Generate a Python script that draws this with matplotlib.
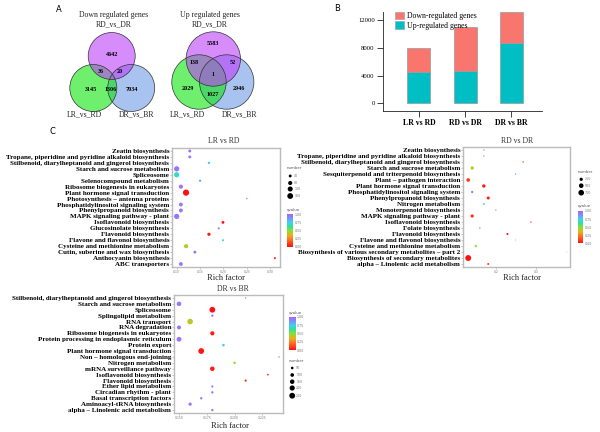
import matplotlib
matplotlib.use("Agg")
import matplotlib.pyplot as plt
from matplotlib.patches import Circle, Patch
from matplotlib.colors import LinearSegmentedColormap
import numpy as np

# ---------------- data ----------------
venn_down_counts = [4642, 36, 20, 3145, 1306, 7034]
venn_up_counts = [5583, 138, 52, 1, 2029, 1027, 2946]
venn_sets = ["RD_vs_DR", "LR_vs_RD", "DR_vs_BR"]

bar_categories = ["LR vs RD", "RD vs DR", "DR vs BR"]
up_genes = [4480, 4660, 8750]
down_genes = [3550, 6400, 4480]
bar_yticks = [0, 4000, 8000, 12000]

lr_paths = ["Zeatin biosynthesis",
            "Tropane, piperidine and pyridine alkaloid biosynthesis",
            "Stilbenoid, diarylheptanoid and gingerol biosynthesis",
            "Starch and sucrose metabolism", "Spliceosome",
            "Selenocompound metabolism", "Ribosome biogenesis in eukaryotes",
            "Plant hormone signal transduction",
            "Photosynthesis \u2013 antenna proteins",
            "Phosphatidylinositol signaling system",
            "Phenylpropanoid biosynthesis", "MAPK signaling pathway - plant",
            "Isoflavonoid biosynthesis", "Glucosinolate biosynthesis",
            "Flavonoid biosynthesis", "Flavone and flavonol biosynthesis",
            "Cysteine and methionine metabolism",
            "Cutin, suberine and wax biosynthesis", "Anthocyanin biosynthesis",
            "ABC transporters"]
lr_rich = [0.128, 0.128, 0.169, 0.100, 0.100, 0.150, 0.109, 0.120, 0.250, 0.109,
           0.109, 0.100, 0.199, 0.190, 0.169, 0.199, 0.120, 0.139, 0.310, 0.109]
lr_count = [40, 40, 25, 130, 130, 25, 80, 180, 10, 70,
            70, 130, 40, 20, 50, 20, 80, 40, 20, 70]
lr_q = [0.95, 0.95, 0.78, 0.95, 0.68, 0.82, 0.95, 0.0, 0.95, 0.95,
        0.95, 0.95, 0.02, 0.9, 0.02, 0.72, 0.45, 0.95, 0.03, 0.95]
lr_size_breaks = [40, 80, 120, 160]

rd_paths = ["Zeatin biosynthesis",
            "Tropane, piperidine and pyridine alkaloid biosynthesis",
            "Stilbenoid, diarylheptanoid and gingerol biosynthesis",
            "Starch and sucrose metabolism",
            "Sesquiterpenoid and triterpenoid biosynthesis",
            "Plant \u2013 pathogen interaction",
            "Plant hormone signal transduction",
            "Phosphatidylinositol signaling system",
            "Phenylpropanoid biosynthesis", "Nitrogen metabolism",
            "Monoterpenoid biosynthesis", "MAPK signaling pathway - plant",
            "Isoflavonoid biosynthesis", "Folate biosynthesis",
            "Flavonoid biosynthesis", "Flavone and flavonol biosynthesis",
            "Cysteine and methionine metabolism",
            "Biosynthesis of various secondary metabolites \u2013 part 2",
            "Biosynthesis of secondary metabolites",
            "alpha \u2013 Linolenic acid metabolism"]
rd_rich = [0.170, 0.170, 0.268, 0.141, 0.249, 0.131, 0.170, 0.141, 0.181, 0.170,
           0.200, 0.141, 0.2875, 0.160, 0.229, 0.249, 0.150, 0.377, 0.131, 0.181]
rd_count = [40, 40, 40, 250, 40, 320, 260, 120, 220, 80,
            40, 250, 40, 50, 100, 20, 130, 15, 820, 100]
rd_q = [0.95, 0.95, 0.02, 0.45, 0.9, 0.1, 0.01, 0.95, 0.03, 0.6,
        0.9, 0.08, 0.02, 0.92, 0.04, 0.2, 0.5, 0.95, 0.0, 0.12]
rd_size_breaks = [250, 500, 750]

dr_paths = ["Stilbenoid, diarylheptanoid and gingerol biosynthesis",
            "Starch and sucrose metabolism", "Spliceosome",
            "Splingolipid metabolism", "RNA transport", "RNA degradation",
            "Ribosome biogenesis in eukaryotes",
            "Protein processing in endoplasmic reticulum", "Protein export",
            "Plant hormone signal transduction",
            "Non \u2013 homologous end-joining", "Nitrogen metabolism",
            "mRNA surveillance pathway", "Isoflavonoid biosynthesis",
            "Flavonoid biosynthesis", "Ether lipid metabolism",
            "Circadian rhythm - plant", "Basal transcription factors",
            "Aminoacyl-tRNA biosynthesis",
            "alpha \u2013 Linolenic acid metabolism"]
dr_rich = [0.21, 0.15, 0.18, 0.18, 0.16, 0.15, 0.18, 0.15, 0.19, 0.17,
           0.24, 0.20, 0.18, 0.23, 0.21, 0.18, 0.18, 0.17, 0.16, 0.18]
dr_count = [15, 150, 250, 40, 230, 120, 130, 170, 50, 250,
            15, 45, 150, 25, 35, 35, 40, 40, 80, 40]
dr_q = [0.95, 0.95, 0.0, 0.95, 0.42, 0.95, 0.02, 0.95, 0.72, 0.01,
        0.95, 0.5, 0.02, 0.08, 0.06, 0.95, 0.95, 0.95, 0.95, 0.95]
dr_size_breaks = [50, 100, 150, 200, 250]

q_ticks = [0.0, 0.25, 0.5, 0.75, 1.0]

# ---------------- setup ----------------
W, H = 600, 432
fig = plt.figure(figsize=(6, 4.32), dpi=100)
SERIF = ["Liberation Serif", "DejaVu Serif"]

cmap = LinearSegmentedColormap.from_list(
    "q", [(0.0, "#FF1010"), (0.2, "#FF6A20"), (0.35, "#E8B020"),
          (0.5, "#88E030"), (0.62, "#30E0A0"), (0.75, "#40D0F0"),
          (0.88, "#7890FF"), (1.0, "#B060FF")])


def px_axes(l, t, r, b, **kw):
    return fig.add_axes([l / W, 1 - b / H, (r - l) / W, (b - t) / H], **kw)


ov = fig.add_axes([0, 0, 1, 1])
ov.set_xlim(0, W)
ov.set_ylim(H, 0)
ov.axis("off")


def ptext(x, y, s, **kw):
    kw.setdefault("ha", "center")
    kw.setdefault("va", "center")
    ov.text(x, y, s, **kw)


# ---------------- panel A: Venn ----------------
ptext(59, 10, "A", fontsize=6, family="DejaVu Sans")


def venn(centers, r, counts, label_pos, title_x, title):
    cols = ["#719BE6", "#0DE60D", "#BB3FF7"]  # blue, green, purple (drawn in this order)
    order = [2, 1, 0]
    for ci, col in zip(order, cols):
        cx, cy = centers[ci]
        ov.add_patch(Circle((cx, cy), r, facecolor=col, alpha=0.6,
                            edgecolor="none", zorder=1))
    for ci in range(3):
        cx, cy = centers[ci]
        ov.add_patch(Circle((cx, cy), r, facecolor="none",
                            edgecolor="#333333", lw=0.5, zorder=2))
    for (x, y), c in zip(label_pos, counts):
        ptext(x, y, str(c), fontsize=4.4, family=SERIF, fontweight="bold", zorder=3)
    ptext(title_x, 15, title, fontsize=5.6, family=SERIF, color="#222")
    ptext(title_x, 24.3, venn_sets[0], fontsize=5.6, family=SERIF, color="#222")


venn([(111.7, 56), (93.3, 88), (131.2, 88)], 23.5, venn_down_counts,
     [(112, 55), (101, 71.7), (120, 71.7), (90.7, 89.3), (111, 89.3), (132, 89.3)],
     114, "Down regulated genes")
venn([(213.3, 59), (199, 82), (226.7, 82)], 27.2, venn_up_counts,
     [(212.7, 43.3), (194, 62.3), (232.7, 62.3), (213, 74), (188.3, 88.3),
      (212.7, 95), (239.3, 88.3)],
     210, "Up regulated genes")
for x, s in [(84, venn_sets[1]), (137, venn_sets[2]), (187.5, venn_sets[1]), (240, venn_sets[2])]:
    ptext(x, 114.5, s, fontsize=5.6, family=SERIF, color="#222")

# ---------------- panel B: bars ----------------
ptext(336.7, 8.5, "B", fontsize=6, family="DejaVu Sans")
axb = px_axes(383, 11.7, 542, 111)
xb = np.arange(1, len(bar_categories) + 1)
axb.bar(xb, up_genes, width=0.5, color="#00BFC4", edgecolor="#999999", lw=0.5)
axb.bar(xb, down_genes, bottom=up_genes, width=0.5, color="#F8766D",
        edgecolor="#999999", lw=0.5)
axb.set_xlim(0.22, 3.67)
axb.set_ylim(-1112, 13227)
axb.set_yticks(bar_yticks)
axb.set_yticklabels([str(v) for v in bar_yticks], fontsize=4.8, family=SERIF)
axb.set_xticks(xb)
axb.set_xticklabels(bar_categories, fontsize=5.6, family=SERIF, fontweight="bold")
axb.spines["top"].set_visible(False)
axb.spines["right"].set_visible(False)
for s in ("left", "bottom"):
    axb.spines[s].set_linewidth(0.6)
    axb.spines[s].set_color("#222")
axb.tick_params(length=4, width=0.6, pad=2, color="#222")
axb.legend(handles=[Patch(facecolor="#F8766D", edgecolor="#999", lw=0.4, label="Down-regulated genes"),
                    Patch(facecolor="#00BFC4", edgecolor="#999", lw=0.4, label="Up-regulated genes")],
           loc="upper left", bbox_to_anchor=(12 / 159, 1.0), frameon=False,
           prop={"family": SERIF, "size": 5.6}, handlelength=1.1, handleheight=1.1,
           handletextpad=0.4, labelspacing=0.15, borderaxespad=0.0, borderpad=0.0)

# ---------------- panel C: dot plots ----------------
ptext(52, 131, "C", fontsize=6, family="DejaVu Sans")


def dotplot(box, cats, rich, count, q, xlim, xticks, fmt, k, title, title_xy, xl_xy,
            cbar_box, qtitle_xy, num_xy, num_ys, breaks):
    ax = px_axes(*box)
    y = np.arange(len(cats))
    ax.scatter(rich, y, s=np.array(count) * k, c=q, cmap=cmap, vmin=0, vmax=1,
               linewidths=0, zorder=3)
    ax.set_ylim(len(cats) - 0.5, -0.5)
    ax.set_xlim(*xlim)
    ax.set_yticks(y)
    ax.set_yticklabels(cats, family=SERIF, fontweight="bold", fontsize=5.0)
    ax.set_xticks(xticks)
    ax.set_xticklabels([fmt % v for v in xticks], fontsize=2.2, color="#777")
    for s in ax.spines.values():
        s.set_color("#BBBBBB")
        s.set_linewidth(1.0)
    ax.tick_params(length=1.2, width=0.4, color="#999", pad=0.8)
    ptext(title_xy[0], title_xy[1], title, fontsize=5.6, family=SERIF, color="#333")
    ptext(xl_xy[0], xl_xy[1], "Rich factor", fontsize=6.0, family=SERIF, color="#222")
    # colorbar
    cax = px_axes(*cbar_box)
    sm = plt.cm.ScalarMappable(cmap=cmap, norm=plt.Normalize(0, 1))
    cb = fig.colorbar(sm, cax=cax, ticks=q_ticks)
    cb.outline.set_visible(False)
    cb.ax.set_yticklabels(["%.2f" % v for v in q_ticks], fontsize=2.3, color="#777")
    cb.ax.tick_params(length=0, pad=1)
    ptext(qtitle_xy[0], qtitle_xy[1], "qvalue", fontsize=2.8, color="#555", ha="left")
    # size legend
    ptext(num_xy[0], num_xy[1], "number", fontsize=2.8, color="#555", ha="left")
    dx = num_xy[0] + 3.5
    ov.scatter([dx] * len(breaks), num_ys, s=np.array(breaks) * k, color="black",
               linewidths=0)
    for yy, b in zip(num_ys, breaks):
        ptext(dx + 4, yy, str(b), fontsize=2.3, color="#777", ha="left")


dotplot((172, 148, 280, 267), lr_paths, lr_rich, lr_count, lr_q,
        (0.090, 0.321), [0.10, 0.15, 0.20, 0.25, 0.30], "%.2f", 0.11,
        "LR vs RD", (224, 141), (226, 278),
        (287, 214, 293, 246.7), (286.7, 209.7), (286.7, 168),
        [176, 183, 189, 196], lr_size_breaks)
dotplot((463, 147, 570, 267), rd_paths, rd_rich, rd_count, rd_q,
        (0.118, 0.385), [0.2, 0.3], "%.1f", 0.022,
        "RD vs DR", (516.7, 141), (521.7, 278),
        (577.7, 211, 583.3, 243.3), (577.7, 205.7), (577.7, 172.3),
        [179.3, 185.7, 192.7], rd_size_breaks)
dotplot((174, 295, 283, 413), dr_paths, dr_rich, dr_count, dr_q,
        (0.1455, 0.2436), [0.150, 0.175, 0.200, 0.225], "%.3f", 0.07,
        "DR vs BR", (233, 289), (230, 425.5),
        (289, 317, 295.5, 350), (288.7, 313), (288.7, 361),
        [368, 375, 381.7, 388, 395.7], dr_size_breaks)

fig.savefig("out.png", dpi=100)
